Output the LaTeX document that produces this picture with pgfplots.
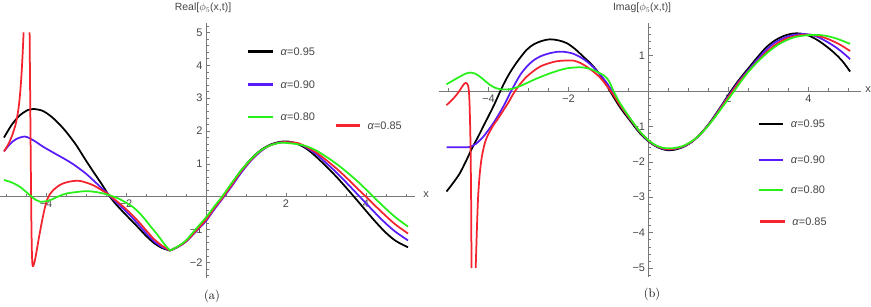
\documentclass[border=0pt]{standalone}
\usepackage{pgfplots}
\pgfplotsset{compat=1.18}
\usepackage{fontspec}
\setsansfont{Liberation Sans}
\definecolor{mblue}{RGB}{88,28,250}
\definecolor{mgreen}{RGB}{40,240,25}
\definecolor{mred}{RGB}{245,35,45}
\definecolor{axgray}{RGB}{120,120,120}
\definecolor{lblgray}{RGB}{70,70,70}
\pgfplotsset{
  mstyle/.style={
    axis lines=middle,
    axis line style={-, draw=axgray, line width=0.6bp},
    tick style={draw=axgray, line width=0.5bp},
    major tick length=4bp, minor tick length=2.5bp,
    tick align=inside,
    clip=false,
    ticklabel style={font=\sffamily\fontsize{11}{13}\selectfont, text=lblgray},
    x=40bp,
    every axis plot/.append style={line width=1.75bp, smooth, tension=0.5, line join=round},
  },
}
\tikzset{legtext/.style={anchor=west, font=\sffamily\fontsize{11}{13}\selectfont, text=lblgray}}
\begin{document}
\begin{tikzpicture}[x=1bp,y=1bp]
\useasboundingbox (0,0) rectangle (871,306);
% ---------------- left panel ----------------
\begin{axis}[mstyle, y=32.86bp,
  xmin=-5.15, xmax=5.22, ymin=-2.47, ymax=5.29,
  anchor=origin, at={(206bp,109.3bp)},
  xtick={-4,-2,2,4}, xticklabels={−4,−2,2,4},
  ytick={-2,-1,1,2,3,4,5}, yticklabels={−2,−1,1,2,3,4,5},
  minor xtick={-5,-4.5,-3.5,-3,-2.5,-1.5,-1,-0.5,0.5,1,1.5,2.5,3,3.5,4.5,5},
  minor ytick={-2.4,-2.2,-1.8,-1.6,-1.4,-1.2,-0.8,-0.6,-0.4,-0.2,0.2,0.4,0.6,0.8,1.2,1.4,1.6,1.8,2.2,2.4,2.6,2.8,3.2,3.4,3.6,3.8,4.2,4.4,4.6,4.8,5.2},
]
% alpha = 0.95
\addplot[black] coordinates {(-5.05,1.80) (-4.85,2.20) (-4.65,2.48) (-4.45,2.64) (-4.32,2.67) (-4.10,2.62) (-3.90,2.47) (-3.70,2.25) (-3.50,1.98) (-3.25,1.58) (-3.00,1.10) (-2.80,0.73) (-2.60,0.37) (-2.45,0.08) (-2.30,-0.16) (-2.10,-0.43) (-1.90,-0.68) (-1.70,-0.93) (-1.50,-1.19) (-1.30,-1.41) (-1.10,-1.56) (-0.90,-1.64)};
\addplot[black] coordinates {(-0.90,-1.64) (-0.70,-1.52) (-0.50,-1.35) (-0.25,-1.02) (0.00,-0.68) (0.20,-0.34) (0.42,0.00) (0.60,0.32) (0.85,0.75) (1.10,1.11) (1.35,1.40) (1.60,1.58) (1.85,1.67) (2.05,1.68) (2.27,1.61) (2.50,1.47) (2.75,1.22) (3.00,0.93) (3.25,0.62) (3.50,0.28) (3.75,-0.07) (4.00,-0.43) (4.25,-0.78) (4.50,-1.10) (4.75,-1.35) (5.05,-1.54)};
% alpha = 0.90
\addplot[mblue] coordinates {(-5.05,1.38) (-4.90,1.60) (-4.75,1.75) (-4.53,1.83) (-4.32,1.72) (-4.07,1.52) (-3.80,1.33) (-3.48,1.11) (-3.25,0.93) (-3.00,0.70) (-2.80,0.48) (-2.60,0.25) (-2.45,0.08) (-2.30,-0.10) (-2.10,-0.33) (-1.90,-0.57) (-1.70,-0.83) (-1.50,-1.11) (-1.30,-1.36) (-1.10,-1.53) (-0.90,-1.64)};
\addplot[mblue] coordinates {(-0.90,-1.64) (-0.70,-1.53) (-0.50,-1.37) (-0.25,-1.06) (0.00,-0.74) (0.20,-0.40) (0.45,0.00) (0.65,0.33) (0.88,0.73) (1.12,1.09) (1.37,1.38) (1.60,1.56) (1.85,1.65) (2.07,1.66) (2.30,1.62) (2.50,1.50) (2.75,1.30) (3.00,1.03) (3.25,0.75) (3.50,0.44) (3.75,0.12) (4.00,-0.20) (4.25,-0.52) (4.50,-0.82) (4.75,-1.08) (5.05,-1.33)};
% alpha = 0.85
\addplot[mred] coordinates {(-5.05,1.38) (-4.95,1.58) (-4.85,1.85) (-4.75,2.25) (-4.68,2.75) (-4.63,3.40) (-4.59,4.20) (-4.56,5.00)};
\addplot[mred] coordinates {(-4.41,5.00) (-4.395,3.0) (-4.38,1.0) (-4.365,-0.8) (-4.35,-1.8) (-4.33,-2.12) (-4.28,-1.95) (-4.23,-1.62) (-4.17,-1.20) (-4.11,-0.81) (-4.05,-0.45) (-3.98,-0.12) (-3.90,0.08) (-3.82,0.20) (-3.65,0.36) (-3.48,0.44) (-3.30,0.48) (-3.15,0.48) (-3.00,0.43) (-2.82,0.35) (-2.65,0.23) (-2.45,0.08) (-2.30,-0.07) (-2.10,-0.27) (-1.90,-0.49) (-1.70,-0.74) (-1.50,-1.02) (-1.30,-1.29) (-1.10,-1.49) (-0.90,-1.64)};
\addplot[mred] coordinates {(-0.90,-1.64) (-0.70,-1.52) (-0.50,-1.36) (-0.25,-1.04) (0.00,-0.70) (0.20,-0.36) (0.43,0.00) (0.62,0.32) (0.86,0.74) (1.11,1.10) (1.36,1.39) (1.60,1.56) (1.85,1.65) (2.06,1.66) (2.30,1.63) (2.50,1.52) (2.75,1.35) (3.00,1.12) (3.25,0.87) (3.50,0.59) (3.75,0.29) (4.00,0.00) (4.25,-0.30) (4.50,-0.59) (4.75,-0.86) (5.05,-1.12)};
% alpha = 0.80
\addplot[mgreen] coordinates {(-5.05,0.51) (-4.85,0.43) (-4.65,0.30) (-4.50,0.15) (-4.36,0.00) (-4.25,-0.10) (-4.15,-0.15) (-4.00,-0.14) (-3.85,-0.08) (-3.65,0.03) (-3.48,0.10) (-3.25,0.14) (-3.00,0.17) (-2.80,0.15) (-2.65,0.12) (-2.45,0.06) (-2.20,-0.05) (-2.00,-0.18) (-1.80,-0.34) (-1.60,-0.58) (-1.40,-0.88) (-1.20,-1.18) (-1.05,-1.43) (-0.90,-1.64)};
\addplot[mgreen] coordinates {(-0.90,-1.64) (-0.70,-1.51) (-0.50,-1.33) (-0.25,-0.98) (0.00,-0.63) (0.20,-0.31) (0.40,0.00) (0.60,0.34) (0.85,0.76) (1.10,1.11) (1.35,1.39) (1.60,1.56) (1.85,1.64) (2.06,1.63) (2.27,1.60) (2.50,1.54) (2.75,1.41) (3.00,1.22) (3.25,1.01) (3.50,0.77) (3.75,0.51) (4.00,0.22) (4.25,-0.08) (4.50,-0.37) (4.75,-0.64) (5.05,-0.91)};
% legend
\draw[black, line width=2.6bp] (axis cs:1.05,4.41) -- (axis cs:1.68,4.41);
\node[legtext] at (axis cs:1.78,4.41) {\textit{α}=0.95};
\draw[mblue, line width=2.6bp] (axis cs:1.05,3.42) -- (axis cs:1.68,3.42);
\node[legtext] at (axis cs:1.78,3.42) {\textit{α}=0.90};
\draw[mgreen, line width=2.6bp] (axis cs:1.05,2.42) -- (axis cs:1.68,2.42);
\node[legtext] at (axis cs:1.78,2.42) {\textit{α}=0.80};
\draw[mred, line width=2.6bp] (axis cs:3.25,2.16) -- (axis cs:3.85,2.16);
\node[legtext] at (axis cs:3.95,2.16) {\textit{α}=0.85};
\node[font=\sffamily\fontsize{10.5}{12}\selectfont, text=lblgray] at (axis cs:-0.075,5.74) {Real[$\phi_5$(x,t)]};
\node[font=\sffamily\fontsize{11}{13}\selectfont, text=lblgray] at (axis cs:5.5,0.05) {x};
\end{axis}
% ---------------- right panel ----------------
\begin{axis}[mstyle, y=35.4bp,
  xmin=-5.25, xmax=5.3, ymin=-5.25, ymax=1.92,
  anchor=origin, at={(648.5bp,215bp)},
  xtick={-4,-2,2,4}, xticklabels={−4,−2,2,4},
  ytick={-5,-4,-3,-2,-1,1}, yticklabels={−5,−4,−3,−2,−1,1},
  minor xtick={-5,-4.5,-3.5,-3,-2.5,-1.5,-1,-0.5,0.5,1,1.5,2.5,3,3.5,4.5,5},
  minor ytick={-5.2,-4.8,-4.6,-4.4,-4.2,-3.8,-3.6,-3.4,-3.2,-2.8,-2.6,-2.4,-2.2,-1.8,-1.6,-1.4,-1.2,-0.8,-0.6,-0.4,-0.2,0.2,0.4,0.6,0.8,1.2,1.4,1.6,1.8},
]
\addplot[black] coordinates {(-5.05,-2.84) (-4.90,-2.62) (-4.72,-2.33) (-4.55,-1.95) (-4.40,-1.59) (-4.25,-1.27) (-4.10,-0.93) (-3.88,-0.44) (-3.67,0.08) (-3.50,0.45) (-3.30,0.80) (-3.05,1.16) (-2.85,1.33) (-2.65,1.42) (-2.46,1.46) (-2.25,1.43) (-2.04,1.35) (-1.83,1.18) (-1.63,0.97) (-1.45,0.78) (-1.30,0.59) (-1.15,0.36) (-1.05,0.17) (-0.88,-0.16) (-0.70,-0.48) (-0.46,-0.84) (-0.21,-1.20) (0.04,-1.46) (0.25,-1.60) (0.45,-1.67) (0.65,-1.66) (0.87,-1.58) (1.08,-1.44) (1.29,-1.22) (1.50,-0.94) (1.70,-0.62) (1.90,-0.28) (2.08,0.03) (2.30,0.37) (2.54,0.70) (2.75,0.99) (2.95,1.24) (3.15,1.42) (3.37,1.55) (3.55,1.61) (3.70,1.63) (3.87,1.61) (4.04,1.55) (4.25,1.42) (4.46,1.25) (4.65,1.07) (4.85,0.84) (5.04,0.55)};
\addplot[mblue] coordinates {(-5.05,-1.59) (-4.80,-1.59) (-4.60,-1.59) (-4.46,-1.58) (-4.30,-1.48) (-4.13,-1.29) (-3.88,-0.91) (-3.63,-0.44) (-3.42,0.03) (-3.21,0.45) (-3.05,0.68) (-2.88,0.86) (-2.70,0.98) (-2.46,1.07) (-2.25,1.11) (-2.13,1.11) (-1.90,1.06) (-1.71,0.96) (-1.55,0.84) (-1.38,0.67) (-1.20,0.45) (-1.05,0.24) (-0.88,-0.06) (-0.70,-0.42) (-0.46,-0.80) (-0.21,-1.17) (0.04,-1.45) (0.25,-1.59) (0.45,-1.65) (0.65,-1.64) (0.87,-1.57) (1.08,-1.44) (1.29,-1.23) (1.50,-0.95) (1.70,-0.64) (1.90,-0.30) (2.10,0.02) (2.30,0.33) (2.54,0.65) (2.75,0.93) (2.95,1.17) (3.15,1.36) (3.37,1.49) (3.60,1.58) (3.91,1.61) (4.15,1.56) (4.40,1.43) (4.65,1.26) (4.85,1.09) (5.04,0.90)};
\addplot[mred] coordinates {(-5.05,-0.40) (-4.92,-0.26) (-4.80,-0.11) (-4.70,0.05) (-4.63,0.17) (-4.57,0.23) (-4.52,0.18) (-4.49,0.00) (-4.47,-0.5) (-4.45,-1.5) (-4.435,-3.0) (-4.425,-5.0)};
\addplot[mred] coordinates {(-4.32,-5.0) (-4.29,-3.9) (-4.26,-3.0) (-4.22,-2.35) (-4.17,-1.88) (-4.11,-1.55) (-4.05,-1.33) (-3.97,-1.15) (-3.88,-0.97) (-3.75,-0.76) (-3.63,-0.55) (-3.50,-0.32) (-3.38,-0.08) (-3.22,0.18) (-3.05,0.40) (-2.88,0.56) (-2.71,0.69) (-2.50,0.78) (-2.30,0.84) (-2.10,0.86) (-1.88,0.86) (-1.70,0.79) (-1.55,0.69) (-1.38,0.55) (-1.21,0.38) (-1.08,0.20) (-0.96,0.02) (-0.84,-0.18) (-0.70,-0.42) (-0.46,-0.79) (-0.21,-1.16) (0.04,-1.44) (0.25,-1.58) (0.45,-1.64) (0.65,-1.63) (0.87,-1.56) (1.08,-1.43) (1.29,-1.23) (1.50,-0.96) (1.70,-0.66) (1.90,-0.33) (2.12,0.02) (2.30,0.30) (2.54,0.61) (2.75,0.87) (2.95,1.10) (3.20,1.33) (3.45,1.48) (3.75,1.57) (4.04,1.59) (4.30,1.54) (4.55,1.44) (4.80,1.30) (5.04,1.13)};
\addplot[mgreen] coordinates {(-5.05,0.19) (-4.88,0.30) (-4.71,0.41) (-4.55,0.50) (-4.46,0.52) (-4.33,0.49) (-4.21,0.40) (-4.08,0.28) (-3.96,0.17) (-3.83,0.09) (-3.71,0.05) (-3.58,0.04) (-3.46,0.05) (-3.33,0.09) (-3.21,0.14) (-3.05,0.22) (-2.88,0.31) (-2.67,0.41) (-2.46,0.50) (-2.25,0.58) (-2.04,0.64) (-1.88,0.66) (-1.71,0.67) (-1.55,0.65) (-1.38,0.59) (-1.25,0.52) (-1.13,0.45) (-1.04,0.36) (-0.96,0.22) (-0.90,0.06) (-0.84,-0.08) (-0.71,-0.35) (-0.46,-0.77) (-0.21,-1.15) (0.04,-1.43) (0.25,-1.57) (0.45,-1.62) (0.65,-1.61) (0.87,-1.55) (1.08,-1.42) (1.29,-1.23) (1.50,-0.97) (1.70,-0.68) (1.90,-0.37) (2.16,0.03) (2.35,0.33) (2.54,0.60) (2.75,0.85) (2.95,1.06) (3.15,1.24) (3.37,1.39) (3.65,1.52) (4.00,1.58) (4.29,1.58) (4.55,1.53) (4.80,1.44) (5.04,1.33)};
% legend
\draw[black, line width=2.6bp] (axis cs:2.75,-0.93) -- (axis cs:3.37,-0.93);
\node[legtext] at (axis cs:3.47,-0.93) {\textit{α}=0.95};
\draw[mblue, line width=2.6bp] (axis cs:2.75,-1.95) -- (axis cs:3.37,-1.95);
\node[legtext] at (axis cs:3.47,-1.95) {\textit{α}=0.90};
\draw[mgreen, line width=2.6bp] (axis cs:2.75,-2.80) -- (axis cs:3.37,-2.80);
\node[legtext] at (axis cs:3.47,-2.80) {\textit{α}=0.80};
\draw[mred, line width=2.6bp] (axis cs:2.79,-3.69) -- (axis cs:3.41,-3.69);
\node[legtext] at (axis cs:3.51,-3.69) {\textit{α}=0.85};
\node[font=\sffamily\fontsize{10.5}{12}\selectfont, text=lblgray] at (axis cs:-0.16,2.34) {Imag[$\phi_5$(x,t)]};
\node[font=\sffamily\fontsize{11}{13}\selectfont, text=lblgray] at (axis cs:5.49,0.03) {x};
\end{axis}
\node[font=\rmfamily\fontsize{12.5}{14}\selectfont] at (212,10) {(a)};
\node[font=\rmfamily\fontsize{12.5}{14}\selectfont] at (652,12) {(b)};
\end{tikzpicture}
\end{document}
